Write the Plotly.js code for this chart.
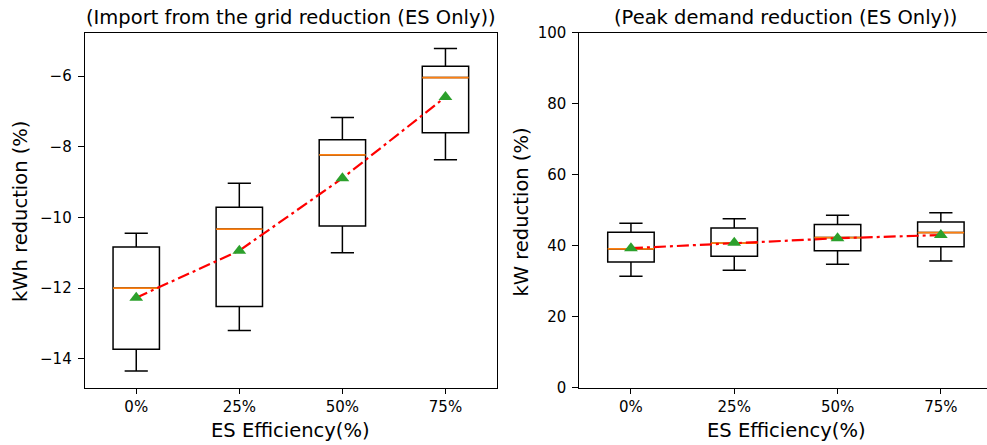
<!DOCTYPE html>
<html>
<head>
<meta charset="utf-8">
<script src="https://cdn.plot.ly/plotly-3.0.1.min.js"></script>
<style>html,body{margin:0;padding:0;background:#fff;}#chart{width:987px;height:445px;}</style>
</head>
<body>
<div id="chart"></div>
<script>
// ---- data ----
const categories = ['0%', '25%', '50%', '75%'];

// Left: Import from the grid reduction (kWh %)
const kwhLowerWhisker = [-14.35, -13.20, -11.00, -8.37];
const kwhQ1           = [-13.73, -12.52, -10.24, -7.60];
const kwhMedian       = [-12.00, -10.33, -8.23, -6.04];
const kwhQ3           = [-10.84, -9.71, -7.80, -5.72];
const kwhUpperWhisker = [-10.45, -9.03, -7.17, -5.22];
const kwhMean         = [-12.27, -10.94, -8.89, -6.59];

// Right: Peak demand reduction (kW %)
const kwLowerWhisker = [31.4, 33.1, 34.8, 35.7];
const kwQ1           = [35.4, 37.0, 38.6, 39.7];
const kwMedian       = [39.1, 40.7, 42.3, 43.7];
const kwQ3           = [43.8, 45.0, 46.0, 46.7];
const kwUpperWhisker = [46.3, 47.6, 48.6, 49.3];
const kwMean         = [39.3, 40.8, 42.1, 43.0];

const xAxisTitle = 'ES Efficiency(%)';

// ---- build ----
const pos = categories.map((c, i) => i);
const boxW = 0.45;
const FONT = 'DejaVu Sans, sans-serif';

function medianSegments(med) {
  const xs = [], ys = [];
  med.forEach((m, i) => { xs.push(i - boxW / 2, i + boxW / 2, null); ys.push(m, m, null); });
  return {xs, ys};
}

function panelTraces(lo, q1, med, q3, hi, mean, xa, ya) {
  const seg = medianSegments(med);
  return [
    {type: 'box', x: pos, q1: q1, median: med, q3: q3, lowerfence: lo, upperfence: hi,
     width: boxW, whiskerwidth: 0.5, boxpoints: false, fillcolor: 'rgba(0,0,0,0)',
     line: {color: 'black', width: 1.5}, xaxis: xa, yaxis: ya, showlegend: false, hoverinfo: 'skip'},
    {type: 'scatter', mode: 'lines', x: seg.xs, y: seg.ys, line: {color: '#ff7f0e', width: 1.8},
     xaxis: xa, yaxis: ya, showlegend: false, hoverinfo: 'skip', connectgaps: false},
    {type: 'scatter', mode: 'lines', x: pos, y: mean, line: {color: 'red', width: 2.2, dash: '12px,4px,3px,4px'},
     xaxis: xa, yaxis: ya, showlegend: false},
    {type: 'scatter', mode: 'markers', x: pos, y: mean,
     marker: {symbol: 'triangle-up', color: '#2ca02c', size: 12, line: {width: 0}},
     xaxis: xa, yaxis: ya, showlegend: false}
  ];
}

const data = [].concat(
  panelTraces(kwhLowerWhisker, kwhQ1, kwhMedian, kwhQ3, kwhUpperWhisker, kwhMean, 'x', 'y'),
  panelTraces(kwLowerWhisker, kwQ1, kwMedian, kwQ3, kwUpperWhisker, kwMean, 'x2', 'y2')
);

const W = 987, H = 445;
const px = v => v / W, py = v => 1 - v / H;

const axisCommon = {
  showgrid: false, zeroline: false, showline: true, linecolor: 'black', linewidth: 1,
  ticks: 'outside', ticklen: 6, tickwidth: 1, tickcolor: 'black',
  tickfont: {family: FONT, size: 15, color: 'black'}
};

const layout = {
  width: W, height: H,
  margin: {l: 0, r: 0, t: 0, b: 0},
  paper_bgcolor: 'white', plot_bgcolor: 'white',
  showlegend: false,
  xaxis: Object.assign({}, axisCommon, {domain: [px(84.7), px(497)], range: [-0.5, 3.5], ticklen: 5,
    tickvals: pos, ticktext: categories, mirror: true, anchor: 'y'}),
  yaxis: Object.assign({}, axisCommon, {domain: [py(387.7), py(32.7)], range: [-14.82, -4.77],
    tickvals: [-14, -12, -10, -8, -6], mirror: true, anchor: 'x', ticklabelstandoff: 3}),
  xaxis2: Object.assign({}, axisCommon, {domain: [px(579.3), 1], range: [-0.5, -0.5 + (987 - 579.3) / 103.3], ticklen: 5,
    tickvals: pos, ticktext: categories, mirror: true, anchor: 'y2'}),
  yaxis2: Object.assign({}, axisCommon, {domain: [py(387.7), py(32.7)], range: [0, 100],
    tickvals: [0, 20, 40, 60, 80, 100], mirror: false, anchor: 'x2', ticklabelstandoff: 3}),
  annotations: [
    {text: '(Import from the grid reduction (ES Only))', xref: 'paper', yref: 'paper', x: px(290.8), y: py(17),
     showarrow: false, xanchor: 'center', yanchor: 'middle', font: {family: FONT, size: 19.5, color: 'black'}},
    {text: '(Peak demand reduction (ES Only))', xref: 'paper', yref: 'paper', x: px(785), y: py(17),
     showarrow: false, xanchor: 'center', yanchor: 'middle', font: {family: FONT, size: 19.5, color: 'black'}},
    {text: xAxisTitle, xref: 'paper', yref: 'paper', x: px(290), y: py(430),
     showarrow: false, xanchor: 'center', yanchor: 'middle', font: {family: FONT, size: 19.5, color: 'black'}},
    {text: xAxisTitle, xref: 'paper', yref: 'paper', x: px(786), y: py(430),
     showarrow: false, xanchor: 'center', yanchor: 'middle', font: {family: FONT, size: 19.5, color: 'black'}},
    {text: 'kWh reduction (%)', xref: 'paper', yref: 'paper', x: px(20.5), y: py(211.5), textangle: -90,
     showarrow: false, xanchor: 'center', yanchor: 'middle', font: {family: FONT, size: 19.5, color: 'black'}},
    {text: 'kW reduction (%)', xref: 'paper', yref: 'paper', x: px(520.5), y: py(212), textangle: -90,
     showarrow: false, xanchor: 'center', yanchor: 'middle', font: {family: FONT, size: 19.5, color: 'black'}}
  ]
};

Plotly.newPlot('chart', data, layout, {staticPlot: true, displayModeBar: false});
</script>
</body>
</html>
